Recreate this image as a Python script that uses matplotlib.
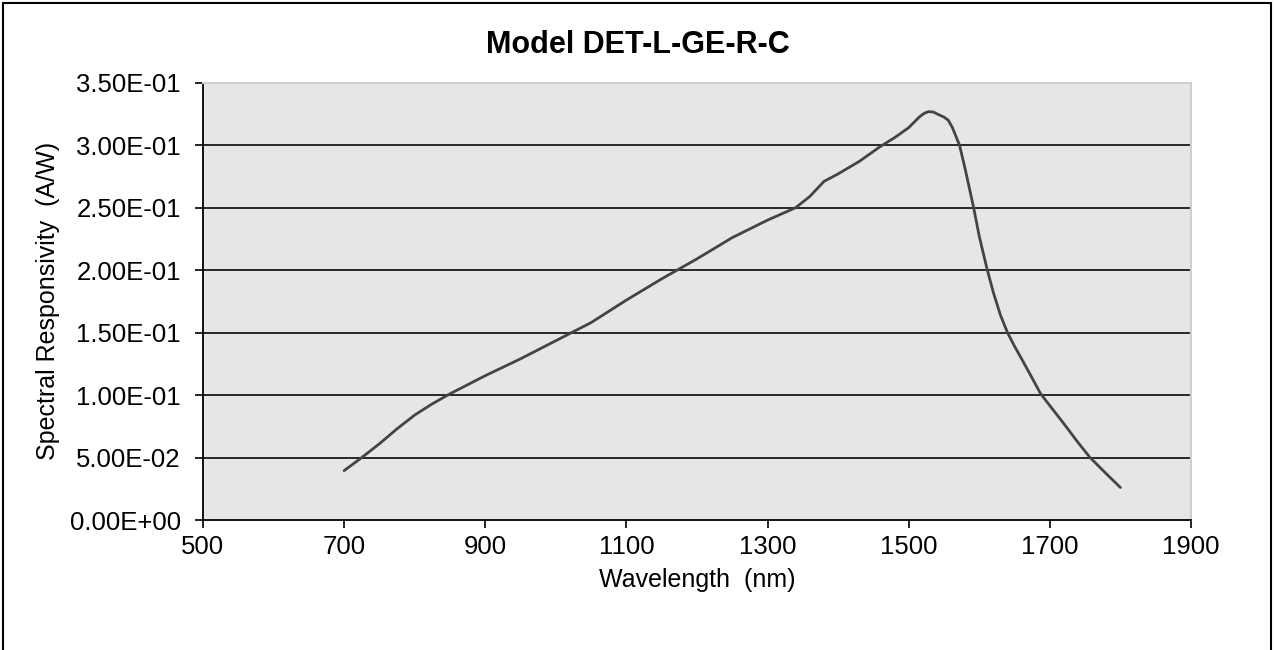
import matplotlib
matplotlib.use("Agg")
from matplotlib import pyplot as plt
from matplotlib.patches import Rectangle
from matplotlib.ticker import FuncFormatter

plt.rcParams['font.family'] = ['Liberation Sans', 'DejaVu Sans']

# ---------------- datos
longitudOnda = [700, 725, 750, 775, 800, 825, 850, 900, 950, 1000, 1050, 1100, 1150,
                1200, 1250, 1300, 1340, 1360, 1380, 1400, 1430, 1460, 1480, 1500,
                1515, 1522, 1528, 1535, 1542, 1550, 1556, 1562, 1567, 1572, 1580,
                1592, 1600, 1611, 1620, 1630, 1640, 1650, 1660, 1675, 1687, 1700,
                1720, 1740, 1757, 1780, 1800]
responsividad = [0.0395, 0.050, 0.061, 0.073, 0.084, 0.093, 0.101, 0.1155, 0.129,
                 0.1435, 0.158, 0.176, 0.193, 0.209, 0.226, 0.240, 0.250, 0.259,
                 0.271, 0.277, 0.287, 0.299, 0.306, 0.314, 0.3225, 0.3255, 0.3268,
                 0.3265, 0.3245, 0.3225, 0.3200, 0.314, 0.307, 0.300, 0.281, 0.250,
                 0.227, 0.201, 0.182, 0.164, 0.150, 0.139, 0.129, 0.1135, 0.101,
                 0.0915, 0.077, 0.062, 0.050, 0.037, 0.026]
ticksX = [500, 700, 900, 1100, 1300, 1500, 1700, 1900]
ticksY = [0.0, 0.05, 0.10, 0.15, 0.20, 0.25, 0.30, 0.35]
titulo = "Model DET-L-GE-R-C"


def formatoExcel(valor, pos):
    texto = "{:.2E}".format(valor)
    mantisa, exponente = texto.split("E")
    signo = exponente[0]
    return "{}E{}{:02d}".format(mantisa, signo, abs(int(exponente)))


miFigura = plt.figure(figsize=[12.75, 6.5], dpi=100)
ejes = miFigura.add_axes([0.1592, 0.2, 0.9341 - 0.1592, 0.8728 - 0.2])
ejes.set_facecolor("#e6e6e6")

for valor in ticksY[1:-1]:
    ejes.axhline(valor, color="#1a1a1a", linewidth=1.3, zorder=1)

ejes.plot(longitudOnda, responsividad, color="#444444", linewidth=2.0, zorder=3,
          solid_capstyle="round", solid_joinstyle="round")

ejes.set_xlim(500, 1900)
ejes.set_ylim(0, 0.35)
ejes.set_xticks(ticksX)
ejes.set_yticks(ticksY)
ejes.yaxis.set_major_formatter(FuncFormatter(formatoExcel))
ejes.tick_params(axis="both", direction="out", length=6, width=1.2,
                 labelsize=18.5, colors="black")
ejes.tick_params(axis="y", pad=10)
ejes.tick_params(axis="x", pad=5)

ejes.spines["left"].set_linewidth(1.3)
ejes.spines["bottom"].set_linewidth(1.3)
ejes.spines["top"].set_color("#cfcfcf")
ejes.spines["right"].set_color("#cfcfcf")
ejes.spines["top"].set_linewidth(1.5)
ejes.spines["right"].set_linewidth(1.5)

ejes.set_xlabel("Wavelength  (nm)", fontsize=18)
ejes.set_ylabel("Spectral Responsivity  (A/W)", fontsize=18)
ejes.xaxis.set_label_coords(0.5, (520 - 580) / 437.3)
ejes.yaxis.set_label_coords((48 - 203) / 988, 0.5)
ejes.xaxis.label.set_va("center")
ejes.yaxis.label.set_va("center")
miFigura.text(0.5, 1 - 45 / 650, titulo, ha="center", va="center", fontsize=22,
              fontweight="bold")

# marco exterior (abierto abajo)
marco = Rectangle((2.5 / 1275, -0.05), (1271 - 2.5) / 1275, 1.05 - 3.5 / 650,
                  transform=miFigura.transFigure, fill=False,
                  edgecolor="black", linewidth=1.5, clip_on=False)
miFigura.patches.append(marco)

miFigura.savefig("out.png", dpi=100)
